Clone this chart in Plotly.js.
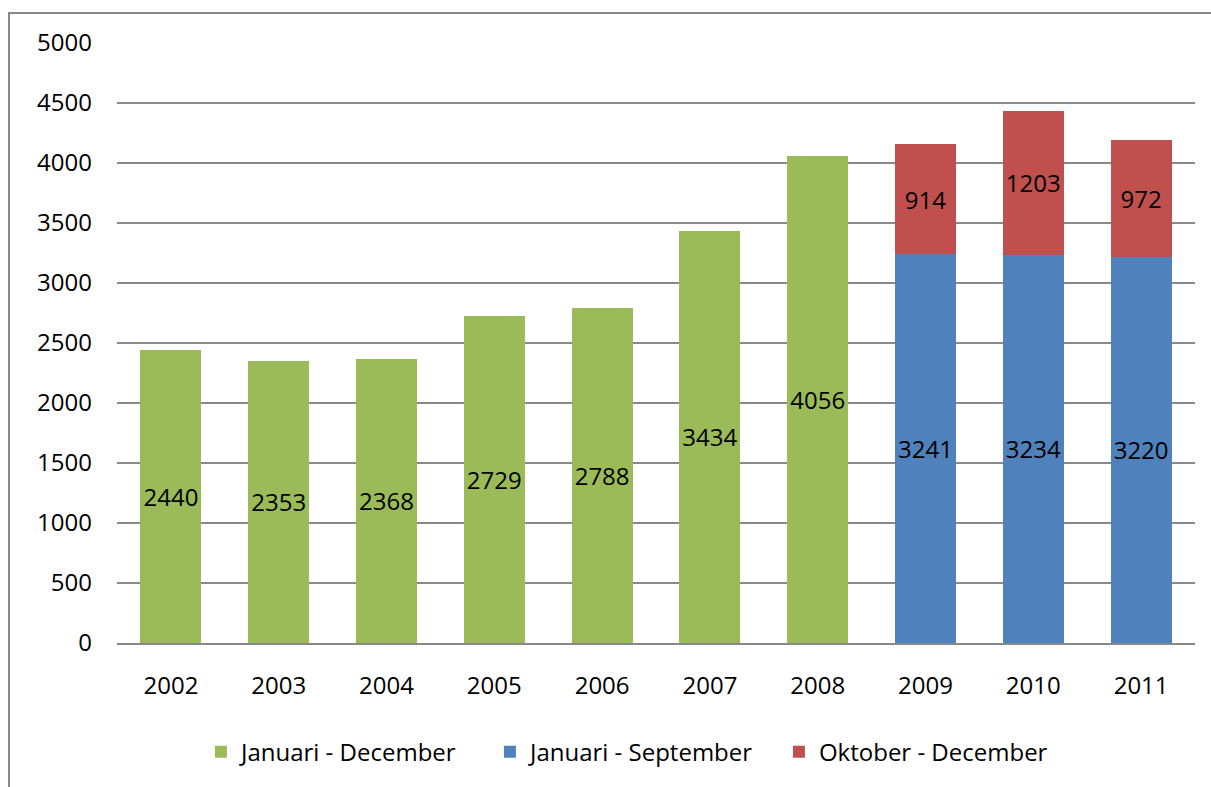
<!DOCTYPE html>
<html>
<head>
<meta charset="utf-8">
<script src="https://cdn.plot.ly/plotly-3.0.1.min.js"></script>
<style>
html,body{margin:0;padding:0;background:#fff;}
#chart{width:1211px;height:787px;}
</style>
</head>
<body>
<div id="chart"></div>
<script>
var years = ["2002","2003","2004","2005","2006","2007","2008","2009","2010","2011"];
var janDec = [2440, 2353, 2368, 2729, 2788, 3434, 4056, null, null, null];
var janSep = [null, null, null, null, null, null, null, 3241, 3234, 3220];
var oktDec = [null, null, null, null, null, null, null, 914, 1203, 972];
var seriesNames = ["Januari - December", "Januari - September", "Oktober - December"];
var yTicks = [0, 500, 1000, 1500, 2000, 2500, 3000, 3500, 4000, 4500, 5000];

var FONT = "Open Sans, Lato, sans-serif";
var FS = 24;

function lbl(arr){ return arr.map(function(v){ return v === null ? "" : String(v); }); }

function mk(name, vals, color){
  return {
    type: "bar", name: name, x: years, y: vals,
    marker: {color: color, line: {width: 0}},
    text: lbl(vals), textposition: "inside", insidetextanchor: "middle",
    textangle: 0, constraintext: "none",
    textfont: {family: FONT, size: FS, color: "#000"},
    hoverinfo: "skip"
  };
}

var data = [
  mk(seriesNames[0], janDec, "#9BBB59"),
  mk(seriesNames[1], janSep, "#4F81BD"),
  mk(seriesNames[2], oktDec, "#C0504D")
];

var layout = {
  width: 1211, height: 787,
  margin: {l: 117, r: 16, t: 43, b: 144, pad: 0},
  paper_bgcolor: "#fff", plot_bgcolor: "#fff",
  barmode: "stack", bargap: 0.434,
  font: {family: FONT, size: FS, color: "#000"},
  showlegend: true,
  legend: {
    orientation: "h", x: 0.48, xanchor: "center", y: -0.182, yanchor: "middle",
    font: {family: FONT, size: FS, color: "#000"},
    traceorder: "normal", entrywidth: 244, entrywidthmode: "pixels",
    itemwidth: 30
  },
  xaxis: {
    type: "category", showgrid: false, zeroline: false,
    showline: true, linecolor: "#898989", linewidth: 1.5,
    ticks: "", ticklabelstandoff: 21,
    tickfont: {family: FONT, size: FS, color: "#000"}
  },
  yaxis: {
    range: [0, 5000], tickmode: "array", tickvals: yTicks,
    ticktext: yTicks.map(String),
    showgrid: true, gridcolor: "#898989", gridwidth: 1.5,
    zeroline: false, showline: false, ticks: "", ticklabelstandoff: 24,
    tickfont: {family: FONT, size: FS, color: "#000"}
  },
  shapes: [{
    type: "rect", xref: "paper", yref: "paper",
    x0: (9 - 117) / 1078, x1: 1.03, y0: -0.26, y1: (643 - 13) / 600,
    line: {color: "#888888", width: 2}, fillcolor: "rgba(0,0,0,0)", layer: "below"
  }]
};

Plotly.newPlot("chart", data, layout, {displayModeBar: false, staticPlot: true});
</script>
</body>
</html>
